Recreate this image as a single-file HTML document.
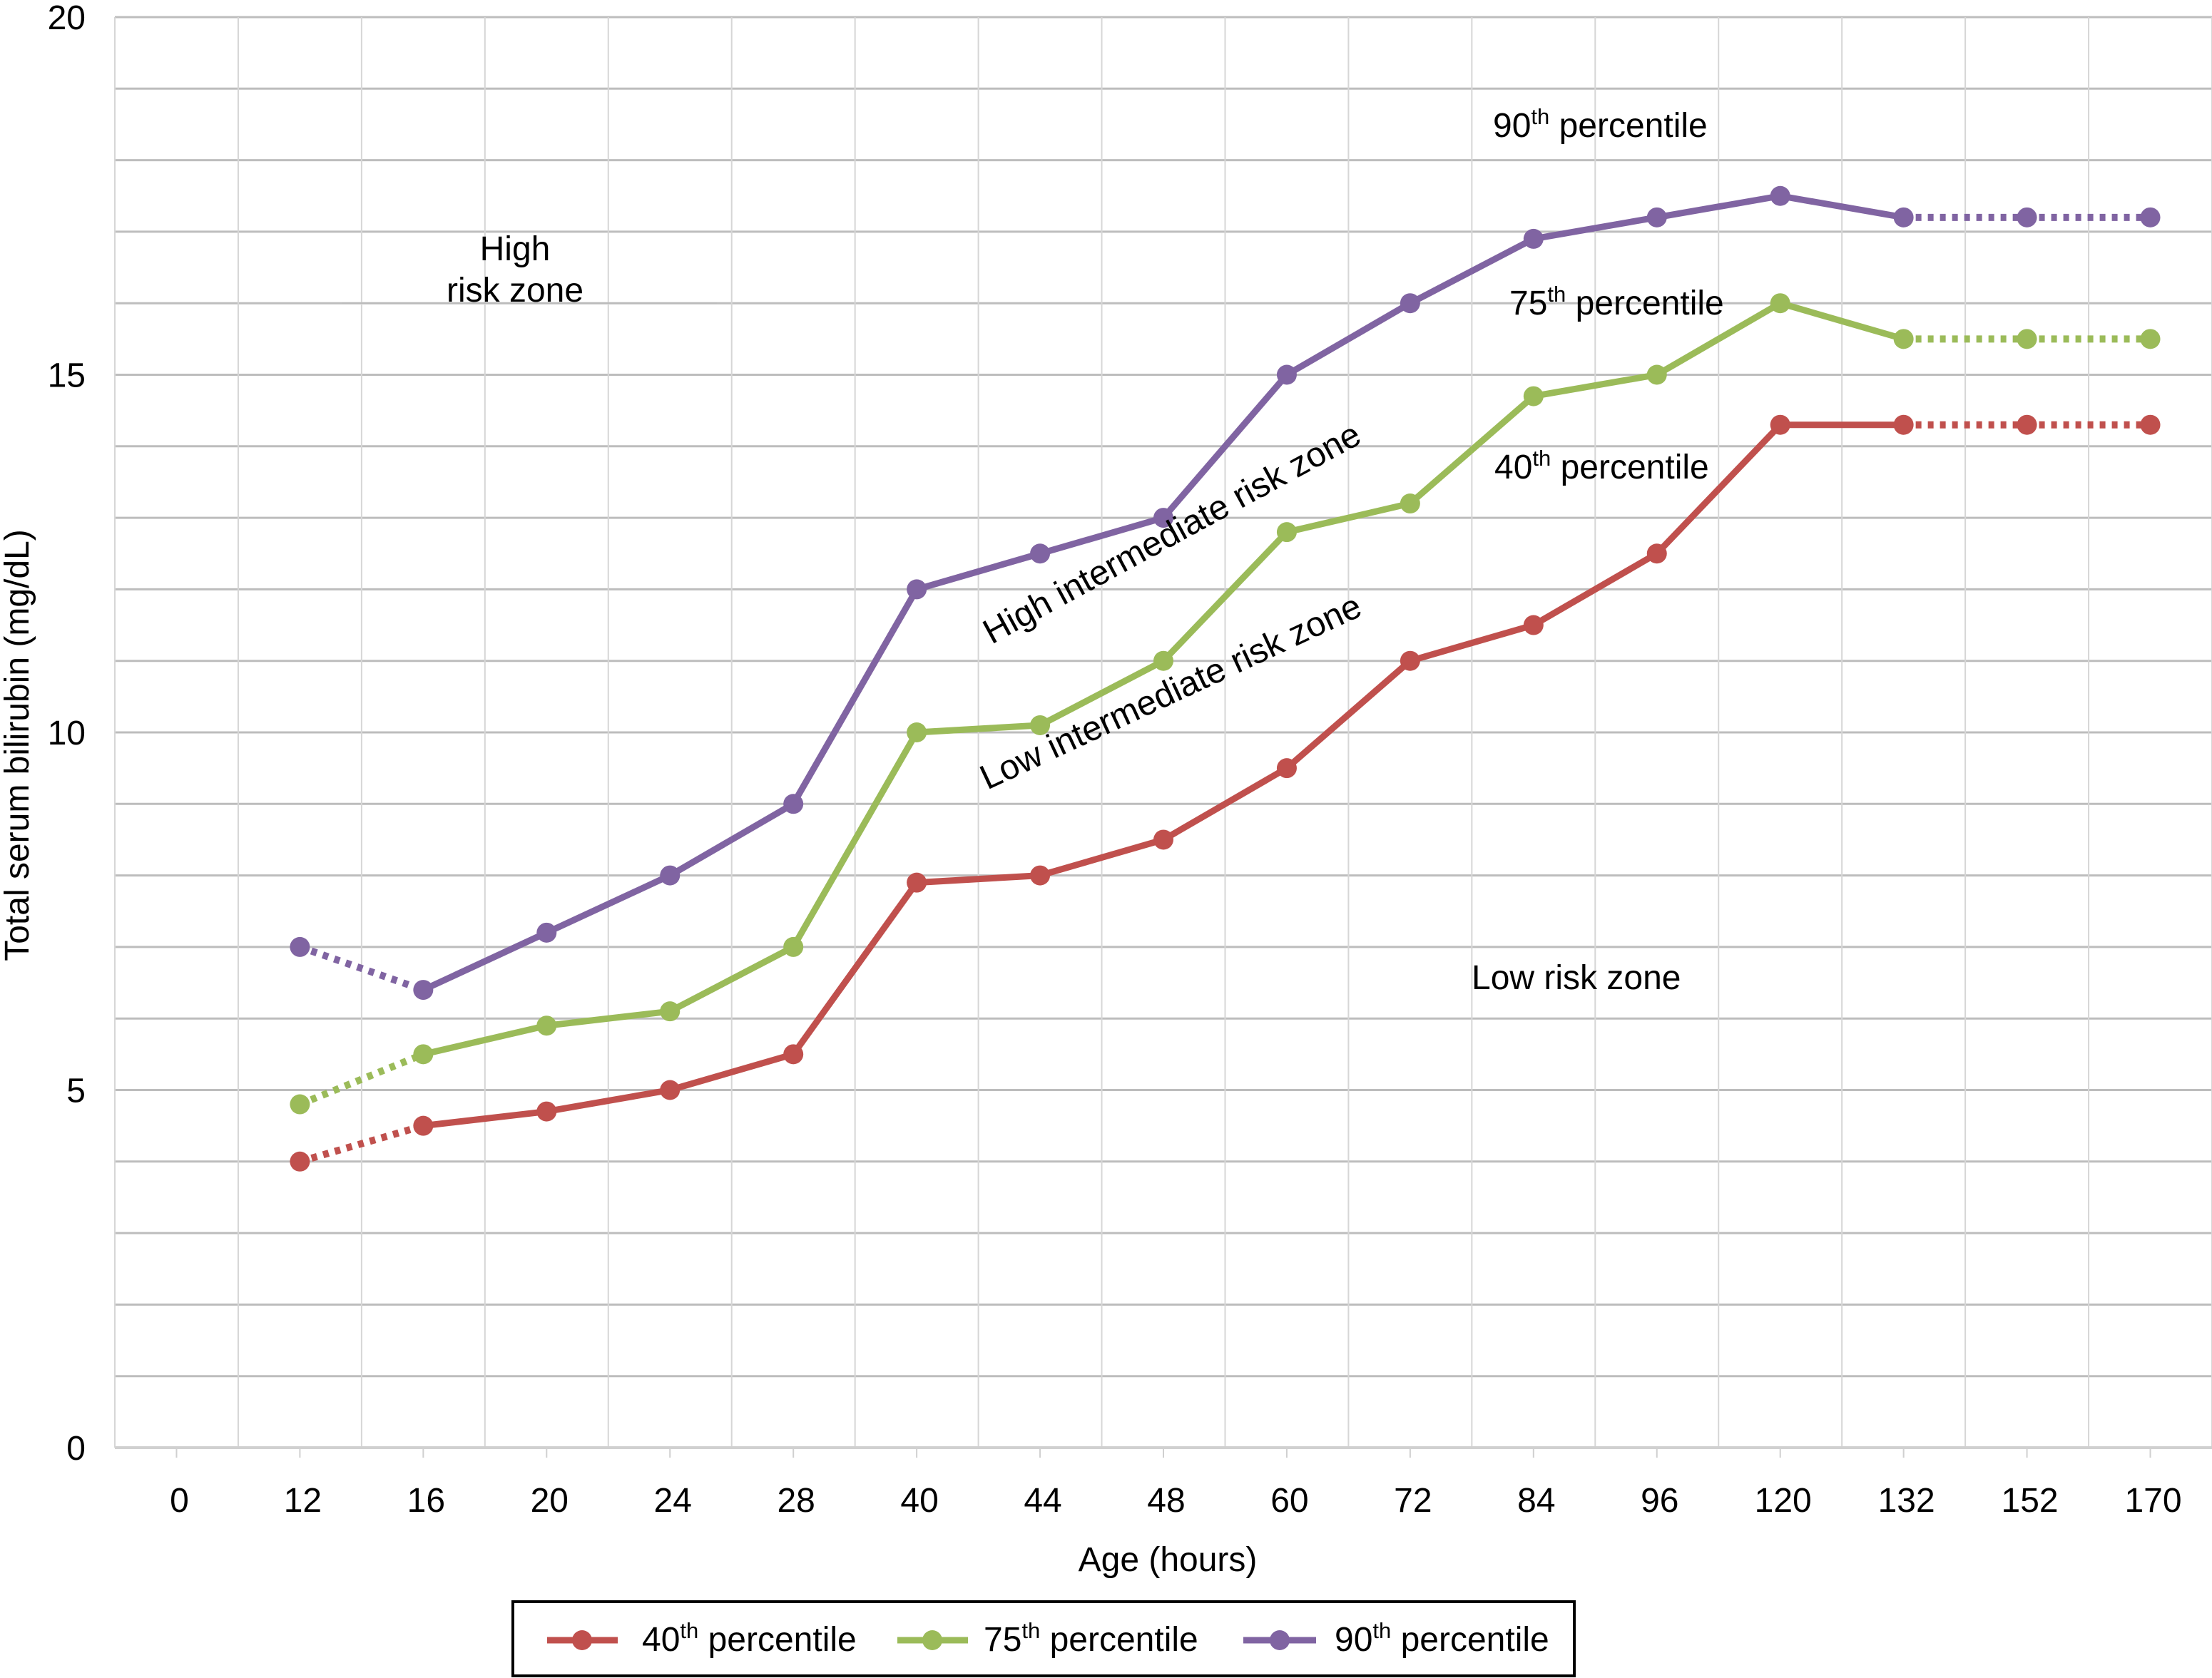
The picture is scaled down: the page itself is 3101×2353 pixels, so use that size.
<!DOCTYPE html>
<html><head><meta charset="utf-8"><style>
html,body{margin:0;padding:0;background:#fff}
svg{display:block;font-family:"Liberation Sans",Arial,sans-serif}
</style></head><body>
<svg id="chart" width="3101" height="2353" viewBox="0 0 3101 2353" xmlns="http://www.w3.org/2000/svg">
<g id="grid"></g>
<g id="axes"></g>
<g id="series"></g>
<g font-size="48" fill="#000">
  <text x="722" y="365" text-anchor="middle">High</text>
  <text x="722" y="423" text-anchor="middle">risk zone</text>
  <line x1="479" y1="425" x2="1005" y2="425" stroke="#bbb" stroke-width="2"/>
  <text x="2093" y="192">90<tspan font-size="31" dy="-18">th</tspan><tspan dy="18"> percentile</tspan></text>
  <text x="2116" y="441">75<tspan font-size="31" dy="-18">th</tspan><tspan dy="18"> percentile</tspan></text>
  <text x="2095" y="671">40<tspan font-size="31" dy="-18">th</tspan><tspan dy="18"> percentile</tspan></text>
  <text x="2063" y="1387">Low risk zone</text>
  <text font-size="49" transform="translate(1390,904) rotate(-28.6)">High intermediate risk zone</text>
  <text font-size="49" transform="translate(1384,1108) rotate(-25)">Low intermediate risk zone</text>
</g>
<g>
  <rect x="719" y="2246" width="1488" height="104" fill="#fff" stroke="#000" stroke-width="4"/>
  <g>
    <line x1="767" y1="2300" x2="866" y2="2300" stroke="#c0504d" stroke-width="9"/><circle cx="816" cy="2300" r="14" fill="#c0504d"/>
    <text x="900" y="2315" font-size="48">40<tspan font-size="31" dy="-18">th</tspan><tspan dy="18"> percentile</tspan></text>
  </g>
  <g>
    <line x1="1258" y1="2300" x2="1357" y2="2300" stroke="#9bbb59" stroke-width="9"/><circle cx="1307" cy="2300" r="14" fill="#9bbb59"/>
    <text x="1379" y="2315" font-size="48">75<tspan font-size="31" dy="-18">th</tspan><tspan dy="18"> percentile</tspan></text>
  </g>
  <g>
    <line x1="1743" y1="2300" x2="1845" y2="2300" stroke="#8064a2" stroke-width="9"/><circle cx="1794" cy="2300" r="14" fill="#8064a2"/>
    <text x="1871" y="2315" font-size="48">90<tspan font-size="31" dy="-18">th</tspan><tspan dy="18"> percentile</tspan></text>
  </g>
</g>
</svg>
<script>
const categories = ["0","12","16","20","24","28","40","44","48","60","72","84","96","120","132","152","170"];
const p40 = [null,4.0,4.5,4.7,5.0,5.5,7.9,8.0,8.5,9.5,11.0,11.5,12.5,14.3,14.3,14.3,14.3];
const p75 = [null,4.8,5.5,5.9,6.1,7.0,10.0,10.1,11.0,12.8,13.2,14.7,15.0,16.0,15.5,15.5,15.5];
const p90 = [null,7.0,6.4,7.2,8.0,9.0,12.0,12.5,13.0,15.0,16.0,16.9,17.2,17.5,17.2,17.2,17.2];
const yTicks = [0,5,10,15,20];
const dottedSegments = [1,14,15];

const NS="http://www.w3.org/2000/svg";
const plotLeft=161, plotRight=3101, plotTop=24, plotBottom=2030, yMax=20;
const step=(plotRight-plotLeft)/categories.length;
function xPos(i){return plotLeft+step*(i+0.5);}
function yPos(v){return plotBottom-(v/yMax)*(plotBottom-plotTop);}
function mk(tag,attrs,parent){const e=document.createElementNS(NS,tag);for(const k in attrs)e.setAttribute(k,attrs[k]);parent.appendChild(e);return e;}

const grid=document.getElementById('grid');
for(let v=1;v<=yMax;v++){
  const l=mk('line',{x1:plotLeft,x2:plotRight,y1:yPos(v),y2:yPos(v),stroke:'#bdbdbd','stroke-width':3},grid);
  
  
}
for(let i=1;i<=categories.length;i++){
  const x=plotLeft+step*i;
  const l=mk('line',{x1:x,x2:x,y1:plotTop,y2:plotBottom,stroke:'#d6d6d6','stroke-width':2},grid);
  
  
}
const axes=document.getElementById('axes');
const xl=mk('line',{x1:plotLeft,x2:plotRight,y1:plotBottom,y2:plotBottom,stroke:'#d0d0d0','stroke-width':4},axes);


const yl=mk('line',{x1:plotLeft,x2:plotLeft,y1:plotTop,y2:plotBottom,stroke:'#d6d6d6','stroke-width':2},axes);


categories.forEach((c,i)=>{
  const t=mk('line',{x1:xPos(i),x2:xPos(i),y1:plotBottom,y2:plotBottom+14,stroke:'#d0d0d0','stroke-width':2},axes);
  
  
  const tx=mk('text',{x:xPos(i)+4,y:2120,'text-anchor':'middle','font-size':48},axes);
  tx.textContent=c;
  
  
});
yTicks.forEach(v=>{
  const tx=mk('text',{x:120,y:yPos(v)+17,'text-anchor':'end','font-size':48},axes);
  tx.textContent=v;
  
  
});
const xt=mk('text',{x:1637,y:2203,'text-anchor':'middle','font-size':48},axes);
xt.textContent='Age (hours)';


const yt=mk('text',{transform:'translate(40,1045) rotate(-90)','text-anchor':'middle','font-size':48},axes);
yt.textContent='Total serum bilirubin (mg/dL)';



const seriesG=document.getElementById('series');
[[p40,'#c0504d','p40'],[p75,'#9bbb59','p75'],[p90,'#8064a2','p90']].forEach(([data,col,name])=>{
  const g=mk('g',{},seriesG);
  
  
  for(let i=0;i<data.length-1;i++){
    if(data[i]==null||data[i+1]==null)continue;
    const dotted=dottedSegments.includes(i);
    const a={x1:xPos(i),y1:yPos(data[i]),x2:xPos(i+1),y2:yPos(data[i+1]),stroke:col,'stroke-width':dotted?10:9};
    if(dotted){a['stroke-dasharray']='8 9';}
    const l=mk('line',a,g);
    
    
  }
  data.forEach((v,i)=>{
    if(v==null)return;
    const c=mk('circle',{cx:xPos(i),cy:yPos(v),r:14,fill:col},g);
    
    
  });
});
</script>
</body></html>
